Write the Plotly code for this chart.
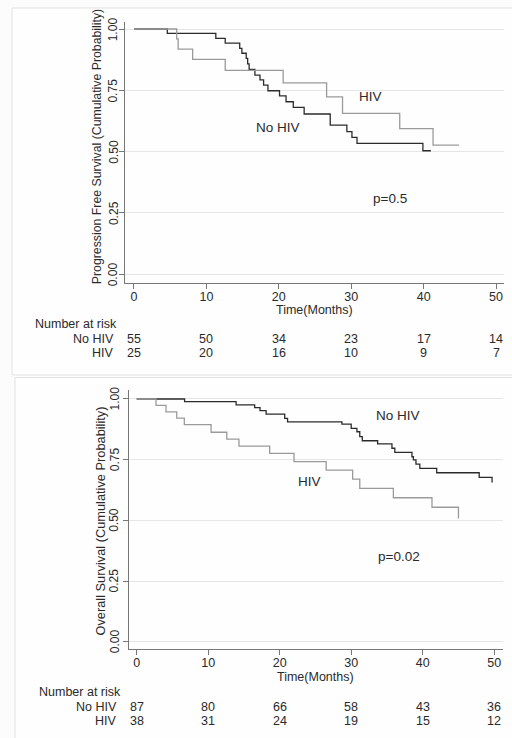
import plotly.graph_objects as go

W, H = 512, 738

# ---------------- data ----------------
# Progression-free survival (top panel)
pfs_nohiv_t = [0, 4.6, 11.3, 12.6, 14.6, 14.9, 15.5, 15.7, 15.9, 16.7, 17.4, 17.9, 18.5,
               20.1, 21.0, 22.0, 23.5, 27.1, 29.4, 30.1, 30.8, 39.9, 41.0]
pfs_nohiv_s = [1.0, 0.982, 0.962, 0.942, 0.921, 0.901, 0.880, 0.858, 0.835, 0.812, 0.792,
               0.771, 0.748, 0.727, 0.703, 0.680, 0.653, 0.608, 0.581, 0.558, 0.533, 0.503, 0.503]
pfs_hiv_t = [0, 5.9, 6.1, 8.1, 12.6, 20.6, 26.6, 28.8, 36.7, 41.3, 44.9]
pfs_hiv_s = [1.0, 0.96, 0.918, 0.876, 0.831, 0.780, 0.723, 0.656, 0.593, 0.526, 0.526]

# Overall survival (bottom panel)
os_nohiv_t = [0, 6.7, 13.9, 16.5, 17.25, 18.1, 20.7, 21.1, 28.7, 30.0, 30.8, 31.2, 31.55,
              33.7, 35.7, 36.1, 38.5, 38.7, 39.06, 39.6, 41.96, 47.9, 49.7, 49.8]
os_nohiv_s = [1.0, 0.989, 0.976, 0.964, 0.952, 0.938, 0.920, 0.906, 0.896, 0.879, 0.865,
              0.845, 0.828, 0.815, 0.797, 0.780, 0.762, 0.749, 0.732, 0.714, 0.696, 0.677,
              0.659, 0.659]
os_hiv_t = [0, 2.7, 4.1, 5.6, 6.66, 10.4, 12.6, 14.3, 18.6, 22.0, 26.5, 30.2, 31.2, 35.9,
            41.3, 45.0]
os_hiv_s = [1.0, 0.974, 0.947, 0.921, 0.894, 0.863, 0.835, 0.806, 0.776, 0.742, 0.707,
            0.670, 0.632, 0.593, 0.554, 0.508]

risk_times = [0, 10, 20, 30, 40, 50]
pfs_risk_nohiv = [55, 50, 34, 23, 17, 14]
pfs_risk_hiv = [25, 20, 16, 10, 9, 7]
os_risk_nohiv = [87, 80, 66, 58, 43, 36]
os_risk_hiv = [38, 31, 24, 19, 15, 12]

x_ticks = [0, 10, 20, 30, 40, 50]
y_ticks = [0, 0.25, 0.5, 0.75, 1.0]
y_ticktext = ["0.00", "0.25", "0.50", "0.75", "1.00"]

# ---------------- styling ----------------
FONT = "Liberation Sans, Arial, Helvetica, sans-serif"
TXT = "#2a2a2a"
DARK = "#2b2b2b"
GRAY = "#9a9a9a"
AX = "#777777"
GRID = "#e6e6e6"


def py(p):
    return 1 - p / H


def px(p):
    return p / W


fig = go.Figure()

fig.add_trace(go.Scatter(x=pfs_nohiv_t, y=pfs_nohiv_s, mode="lines", line=dict(color=DARK, width=1.3, shape="hv"),
                         xaxis="x", yaxis="y", showlegend=False, hoverinfo="skip"))
fig.add_trace(go.Scatter(x=pfs_hiv_t, y=pfs_hiv_s, mode="lines", line=dict(color=GRAY, width=1.3, shape="hv"),
                         xaxis="x", yaxis="y", showlegend=False, hoverinfo="skip"))
fig.add_trace(go.Scatter(x=os_nohiv_t, y=os_nohiv_s, mode="lines", line=dict(color=DARK, width=1.3, shape="hv"),
                         xaxis="x2", yaxis="y2", showlegend=False, hoverinfo="skip"))
fig.add_trace(go.Scatter(x=os_hiv_t, y=os_hiv_s, mode="lines", line=dict(color=GRAY, width=1.3, shape="hv"),
                         xaxis="x2", yaxis="y2", showlegend=False, hoverinfo="skip"))

xcommon = dict(tickvals=x_ticks, ticks="outside", ticklen=5, tickcolor=AX, showline=True, linecolor=AX,
               linewidth=1, showgrid=False, zeroline=False, ticklabelstandoff=-3,
               tickfont=dict(size=12.5, color=TXT, family=FONT))
# y tick labels are drawn as rotated annotations (Stata style) for exact placement
ycommon = dict(tickvals=y_ticks, showticklabels=False, ticks="outside", ticklen=5, tickcolor=AX, showline=True,
               linecolor=AX, linewidth=1, showgrid=True, gridcolor=GRID, gridwidth=1, zeroline=False)

fig.update_layout(
    width=W, height=H, autosize=False,
    margin=dict(l=0, r=0, t=0, b=0),
    paper_bgcolor="#fcfcfc", plot_bgcolor="rgba(0,0,0,0)",
    font=dict(family=FONT, color=TXT, size=12),
    xaxis=dict(domain=[px(125.3), px(504)], range=[-1.2, 51.1], anchor="y", **xcommon),
    yaxis=dict(domain=[py(282.7), py(21.7)], range=[-0.0355, 1.0298], anchor="x", **ycommon),
    xaxis2=dict(domain=[px(129), px(502.7)], range=[-1.077, 51.19], anchor="y2", **xcommon),
    yaxis2=dict(domain=[py(649.3), py(390)], range=[-0.0313, 1.037], anchor="x2", **ycommon),
)

# panel outlines
fig.add_shape(type="rect", xref="paper", yref="paper", x0=px(12), x1=1.05, y0=py(375), y1=py(8),
              line=dict(color="#e2e2e2", width=1), fillcolor="#fefefe", layer="below")
fig.add_shape(type="rect", xref="paper", yref="paper", x0=px(15), x1=1.05, y0=-0.05, y1=py(377.5),
              line=dict(color="#e2e2e2", width=1), fillcolor="#fefefe", layer="below")

ann = []


def text(x, y, s, xref="paper", yref="paper", size=12.5, xanchor="center", angle=0):
    ann.append(dict(x=x, y=y, xref=xref, yref=yref, text=s, showarrow=False, xanchor=xanchor,
                    yanchor="middle", textangle=angle, font=dict(size=size, color=TXT, family=FONT)))


# y tick labels (rotated)
for v, lab in zip(y_ticks, y_ticktext):
    text(px(113.3), v, lab, yref="y", size=12, angle=-90)
    text(px(114.5), v, lab, yref="y2", size=12, angle=-90)

# y titles
text(px(96.7), py(146.5), "Progression Free Survival (Cumulative Probability)", size=12.3, angle=-90)
text(px(100), py(521.5), "Overall Survival (Cumulative Probability)", size=12.8, angle=-90)
# x titles
text(px(314.7), py(310), "Time(Months)")
text(px(315.3), py(677), "Time(Months)")

# in-plot labels
text(32.6, 0.724, "HIV", xref="x", yref="y", size=13.5)
text(19.9, 0.597, "No HIV", xref="x", yref="y", size=13.5)
text(35.4, 0.309, "p=0.5", xref="x", yref="y", size=13.5)
text(36.6, 0.930, "No HIV", xref="x2", yref="y2", size=13.5)
text(24.1, 0.659, "HIV", xref="x2", yref="y2", size=13.5)
text(36.7, 0.350, "p=0.02", xref="x2", yref="y2", size=13.5)

# risk tables
text(px(32.7), py(324.3), "Number at risk", xanchor="left")
text(px(115.5), py(339.3), "No HIV", xanchor="right")
text(px(115.5), py(353.3), "HIV", xanchor="right")
for t, a, b in zip(risk_times, pfs_risk_nohiv, pfs_risk_hiv):
    text(t, py(339.3), str(a), xref="x")
    text(t, py(353.3), str(b), xref="x")

text(px(36.7), py(692.3), "Number at risk", xanchor="left")
text(px(118.5), py(707.3), "No HIV", xanchor="right")
text(px(118.5), py(721), "HIV", xanchor="right")
for t, a, b in zip(risk_times, os_risk_nohiv, os_risk_hiv):
    text(t, py(707.3), str(a), xref="x2")
    text(t, py(721), str(b), xref="x2")

fig.update_layout(annotations=ann)

fig.write_html("out.html", config={"displayModeBar": False})

# remove default page margin so the 512x738 figure fits the window exactly
with open("out.html", "r", encoding="utf-8") as f:
    html = f.read()
html = html.replace("<head>", "<head><style>html,body{margin:0;padding:0;overflow:hidden;}</style>", 1)
with open("out.html", "w", encoding="utf-8") as f:
    f.write(html)
